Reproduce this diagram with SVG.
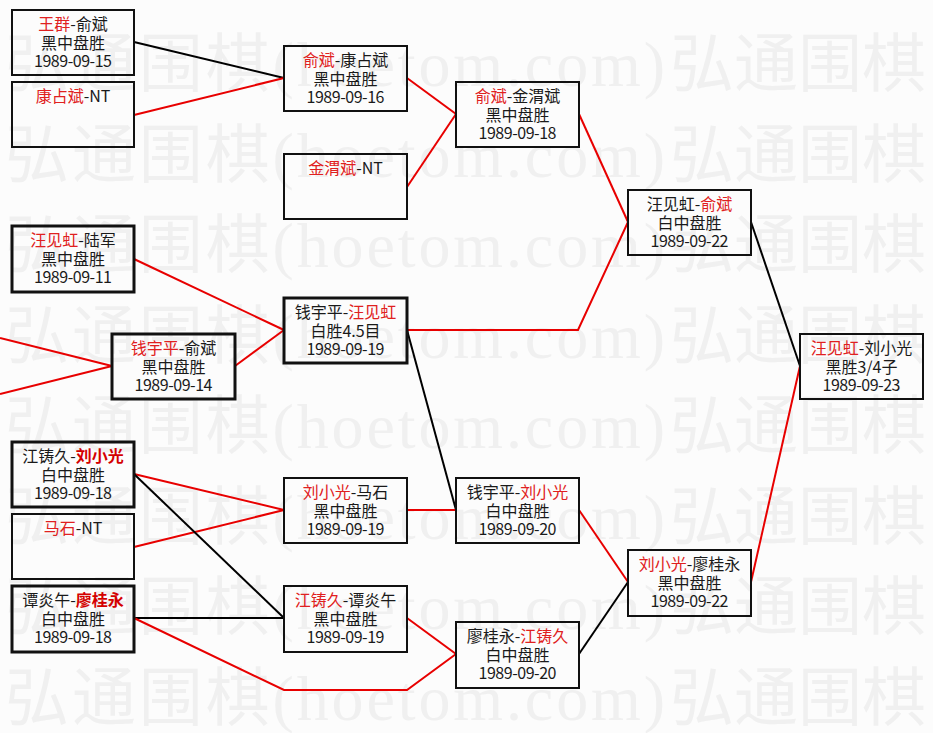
<svg xmlns="http://www.w3.org/2000/svg" width="933" height="733" viewBox="0 0 933 733">
<style>
.wm{font-family:"Liberation Serif","Noto Sans CJK SC",serif;font-size:64px;fill:#f0f0f0}
.box{fill:none;stroke:#111;stroke-width:2}
.thick{stroke-width:3}
.t{font-family:"Noto Sans CJK SC","Noto Sans CJK JP",sans-serif;font-size:16px;fill:#1a1a1a;text-anchor:middle}
.r{fill:#e02020}
.b{font-weight:bold;fill:#d40000}
.cb{fill:none;stroke:#000;stroke-width:2}
.cr{fill:none;stroke:#e80000;stroke-width:2}
</style>
<rect width="933" height="733" fill="#fcfcfc"/>
<g id="watermark">
<text class="wm" x="5" y="86" textLength="660" lengthAdjust="spacing">弘通围棋(hoetom.com)</text>
<text class="wm" x="670" y="86" textLength="256" lengthAdjust="spacing">弘通围棋</text>
<text class="wm" x="5" y="177" textLength="660" lengthAdjust="spacing">弘通围棋(hoetom.com)</text>
<text class="wm" x="670" y="177" textLength="256" lengthAdjust="spacing">弘通围棋</text>
<text class="wm" x="5" y="267" textLength="660" lengthAdjust="spacing">弘通围棋(hoetom.com)</text>
<text class="wm" x="670" y="267" textLength="256" lengthAdjust="spacing">弘通围棋</text>
<text class="wm" x="5" y="358" textLength="660" lengthAdjust="spacing">弘通围棋(hoetom.com)</text>
<text class="wm" x="670" y="358" textLength="256" lengthAdjust="spacing">弘通围棋</text>
<text class="wm" x="5" y="448" textLength="660" lengthAdjust="spacing">弘通围棋(hoetom.com)</text>
<text class="wm" x="670" y="448" textLength="256" lengthAdjust="spacing">弘通围棋</text>
<text class="wm" x="5" y="539" textLength="660" lengthAdjust="spacing">弘通围棋(hoetom.com)</text>
<text class="wm" x="670" y="539" textLength="256" lengthAdjust="spacing">弘通围棋</text>
<text class="wm" x="5" y="629" textLength="660" lengthAdjust="spacing">弘通围棋(hoetom.com)</text>
<text class="wm" x="670" y="629" textLength="256" lengthAdjust="spacing">弘通围棋</text>
<text class="wm" x="5" y="720" textLength="660" lengthAdjust="spacing">弘通围棋(hoetom.com)</text>
<text class="wm" x="670" y="720" textLength="256" lengthAdjust="spacing">弘通围棋</text>
</g>
<g id="connectors">
<line class="cb" x1="134" y1="42" x2="284" y2="78"/>
<line class="cr" x1="134" y1="115" x2="284" y2="78"/>
<line class="cr" x1="407" y1="78" x2="456" y2="114"/>
<line class="cr" x1="407" y1="187" x2="456" y2="114"/>
<line class="cr" x1="579" y1="114" x2="628" y2="222"/>
<line class="cr" x1="134" y1="259" x2="284" y2="330"/>
<line class="cr" x1="235" y1="366" x2="284" y2="330"/>
<line class="cr" x1="0" y1="338" x2="112" y2="366"/>
<line class="cr" x1="0" y1="394" x2="112" y2="366"/>
<polyline class="cr" points="407,330 578,330 628,222"/>
<line class="cb" x1="407" y1="330" x2="456" y2="510"/>
<line class="cr" x1="134" y1="474" x2="284" y2="510"/>
<line class="cr" x1="134" y1="547" x2="284" y2="510"/>
<line class="cb" x1="134" y1="474" x2="284" y2="618"/>
<line class="cb" x1="134" y1="618" x2="284" y2="618"/>
<polyline class="cr" points="134,618 284,690 407,690 456,654"/>
<line class="cr" x1="407" y1="618" x2="456" y2="654"/>
<line class="cr" x1="407" y1="510" x2="456" y2="510"/>
<line class="cr" x1="579" y1="510" x2="628" y2="582"/>
<line class="cb" x1="579" y1="654" x2="628" y2="582"/>
<line class="cb" x1="751" y1="222" x2="800" y2="366"/>
<line class="cr" x1="751" y1="582" x2="800" y2="366"/>
</g>
<g id="n-wangqun-yubin">
<rect class="box" x="12" y="10" width="122" height="65"/>
<text class="t" x="73" y="30"><tspan class="r">王群</tspan>-俞斌</text>
<text class="t" x="73" y="49">黑中盘胜</text>
<text class="t" x="73" y="67" textLength="78">1989-09-15</text>
</g>
<g id="n-kangzhanbin-nt">
<rect class="box" x="12" y="82" width="122" height="65"/>
<text class="t" x="73" y="102"><tspan class="r">康占斌</tspan>-NT</text>
</g>
<g id="n-yubin-kangzhanbin">
<rect class="box" x="284" y="46" width="123" height="65"/>
<text class="t" x="345.5" y="66"><tspan class="r">俞斌</tspan>-康占斌</text>
<text class="t" x="345.5" y="85">黑中盘胜</text>
<text class="t" x="345.5" y="103" textLength="78">1989-09-16</text>
</g>
<g id="n-jinweibin-nt">
<rect class="box" x="284" y="154" width="123" height="65"/>
<text class="t" x="345.5" y="174"><tspan class="r">金渭斌</tspan>-NT</text>
</g>
<g id="n-wangjianhong-lujun">
<rect class="box thick" x="12" y="226" width="122" height="66"/>
<text class="t" x="73" y="246"><tspan class="r">汪见虹</tspan>-陆军</text>
<text class="t" x="73" y="265">黑中盘胜</text>
<text class="t" x="73" y="283" textLength="78">1989-09-11</text>
</g>
<g id="n-qianyuping-yubin">
<rect class="box thick" x="112" y="334" width="123" height="65"/>
<text class="t" x="173.5" y="354"><tspan class="r">钱宇平</tspan>-俞斌</text>
<text class="t" x="173.5" y="373">黑中盘胜</text>
<text class="t" x="173.5" y="391" textLength="78">1989-09-14</text>
</g>
<g id="n-qianyuping-wangjianhong">
<rect class="box thick" x="284" y="298" width="123" height="65"/>
<text class="t" x="345.5" y="318">钱宇平-<tspan class="r">汪见虹</tspan></text>
<text class="t" x="345.5" y="337">白胜4.5目</text>
<text class="t" x="345.5" y="355" textLength="78">1989-09-19</text>
</g>
<g id="n-jiangzhujiu-liuxiaoguang">
<rect class="box thick" x="12" y="442" width="122" height="65"/>
<text class="t" x="73" y="462">江铸久-<tspan class="r b">刘小光</tspan></text>
<text class="t" x="73" y="481">白中盘胜</text>
<text class="t" x="73" y="499" textLength="78">1989-09-18</text>
</g>
<g id="n-mashi-nt">
<rect class="box" x="12" y="514" width="122" height="65"/>
<text class="t" x="73" y="534"><tspan class="r">马石</tspan>-NT</text>
</g>
<g id="n-tanyanwu-liaoguiyong">
<rect class="box thick" x="12" y="586" width="122" height="66"/>
<text class="t" x="73" y="606">谭炎午-<tspan class="r b">廖桂永</tspan></text>
<text class="t" x="73" y="625">白中盘胜</text>
<text class="t" x="73" y="643" textLength="78">1989-09-18</text>
</g>
<g id="n-liuxiaoguang-mashi">
<rect class="box" x="284" y="478" width="123" height="65"/>
<text class="t" x="345.5" y="498"><tspan class="r">刘小光</tspan>-马石</text>
<text class="t" x="345.5" y="517">黑中盘胜</text>
<text class="t" x="345.5" y="535" textLength="78">1989-09-19</text>
</g>
<g id="n-jiangzhujiu-tanyanwu">
<rect class="box" x="284" y="586" width="123" height="66"/>
<text class="t" x="345.5" y="606"><tspan class="r">江铸久</tspan>-谭炎午</text>
<text class="t" x="345.5" y="625">黑中盘胜</text>
<text class="t" x="345.5" y="643" textLength="78">1989-09-19</text>
</g>
<g id="n-yubin-jinweibin">
<rect class="box" x="456" y="82" width="123" height="65"/>
<text class="t" x="517.5" y="102"><tspan class="r">俞斌</tspan>-金渭斌</text>
<text class="t" x="517.5" y="121">黑中盘胜</text>
<text class="t" x="517.5" y="139" textLength="78">1989-09-18</text>
</g>
<g id="n-wangjianhong-yubin">
<rect class="box" x="628" y="190" width="123" height="65"/>
<text class="t" x="689.5" y="210">汪见虹-<tspan class="r">俞斌</tspan></text>
<text class="t" x="689.5" y="229">白中盘胜</text>
<text class="t" x="689.5" y="247" textLength="78">1989-09-22</text>
</g>
<g id="n-qianyuping-liuxiaoguang">
<rect class="box" x="456" y="478" width="123" height="65"/>
<text class="t" x="517.5" y="498">钱宇平-<tspan class="r">刘小光</tspan></text>
<text class="t" x="517.5" y="517">白中盘胜</text>
<text class="t" x="517.5" y="535" textLength="78">1989-09-20</text>
</g>
<g id="n-liaoguiyong-jiangzhujiu">
<rect class="box" x="456" y="622" width="123" height="66"/>
<text class="t" x="517.5" y="642">廖桂永-<tspan class="r">江铸久</tspan></text>
<text class="t" x="517.5" y="661">白中盘胜</text>
<text class="t" x="517.5" y="679" textLength="78">1989-09-20</text>
</g>
<g id="n-liuxiaoguang-liaoguiyong">
<rect class="box" x="628" y="550" width="123" height="66"/>
<text class="t" x="689.5" y="570"><tspan class="r">刘小光</tspan>-廖桂永</text>
<text class="t" x="689.5" y="589">黑中盘胜</text>
<text class="t" x="689.5" y="607" textLength="78">1989-09-22</text>
</g>
<g id="n-wangjianhong-liuxiaoguang">
<rect class="box" x="800" y="334" width="123" height="65"/>
<text class="t" x="861.5" y="354"><tspan class="r">汪见虹</tspan>-刘小光</text>
<text class="t" x="861.5" y="373">黑胜3/4子</text>
<text class="t" x="861.5" y="391" textLength="78">1989-09-23</text>
</g>
</svg>
